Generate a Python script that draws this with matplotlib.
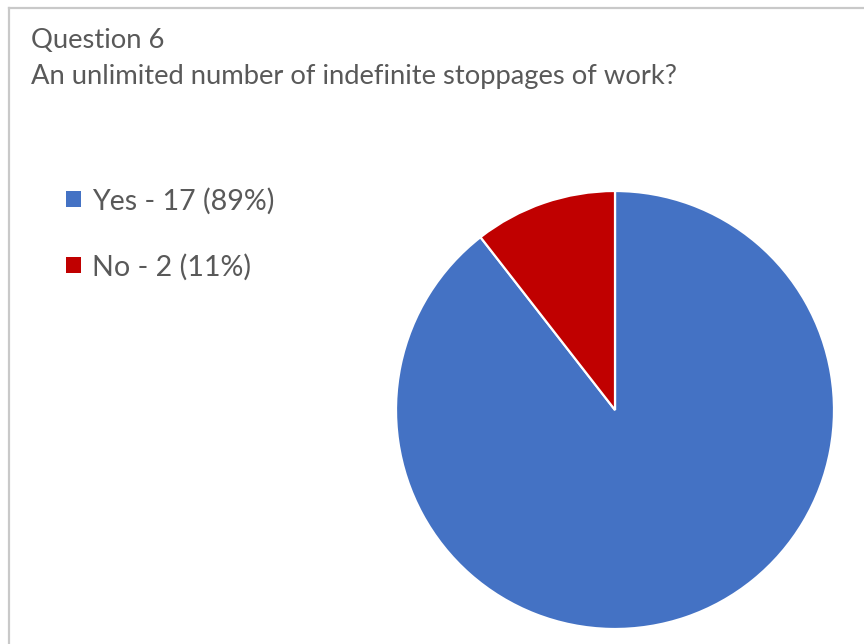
import matplotlib
matplotlib.use("Agg")
import matplotlib.pyplot as plt
from matplotlib.lines import Line2D

categories = ["Yes", "No"]
counts = [17, 2]
colors = ["#4472C4", "#C00000"]
title_lines = ["Question 6", "An unlimited number of indefinite stoppages of work?"]

FONT = ["Lato", "DejaVu Sans"]
W, H = 864, 644
fig = plt.figure(figsize=(W / 100, H / 100), dpi=100)
fig.patch.set_facecolor("white")

# chart border (left and top visible)
border_col = "#c9c9c9"
fig.add_artist(Line2D([9 / W, 9 / W], [0, 1 - 8 / H], transform=fig.transFigure,
                      color=border_col, lw=1.6))
fig.add_artist(Line2D([9 / W, 1], [1 - 8 / H, 1 - 8 / H], transform=fig.transFigure,
                      color=border_col, lw=1.6))

# title
fig.text(31 / W, 1 - 48 / H, title_lines[0], fontsize=19.7, color="#595959",
         family=FONT, va="baseline", ha="left")
fig.text(31 / W, 1 - 84 / H, title_lines[1], fontsize=19.7, color="#595959",
         family=FONT, va="baseline", ha="left")

# pie
cx, cy, r = 615, 410, 219
ax = fig.add_axes([(cx - r) / W, (H - cy - r) / H, 2 * r / W, 2 * r / H])
wedges, _ = ax.pie(counts, colors=colors, startangle=90, counterclock=False,
                   wedgeprops=dict(edgecolor="white", linewidth=1.6))
ax.set_xlim(-1, 1)
ax.set_ylim(-1, 1)
ax.set_aspect("auto")
ax.axis("off")

total = sum(counts)
labels = [f"{c} - {v} ({round(v / total * 100)}%)" for c, v in zip(categories, counts)]
leg = fig.legend(wedges, labels, loc="upper left", bbox_to_anchor=(55 / W, 1 - 176 / H),
                 frameon=False, handlelength=0.5, handleheight=0.5,
                 handletextpad=0.4, labelspacing=1.37, borderaxespad=0,
                 prop=dict(family=FONT, size=20.6))
for h in leg.legend_handles:
    h.set_edgecolor("none")
for t in leg.get_texts():
    t.set_color("#595959")

fig.savefig("out.png", dpi=100)
